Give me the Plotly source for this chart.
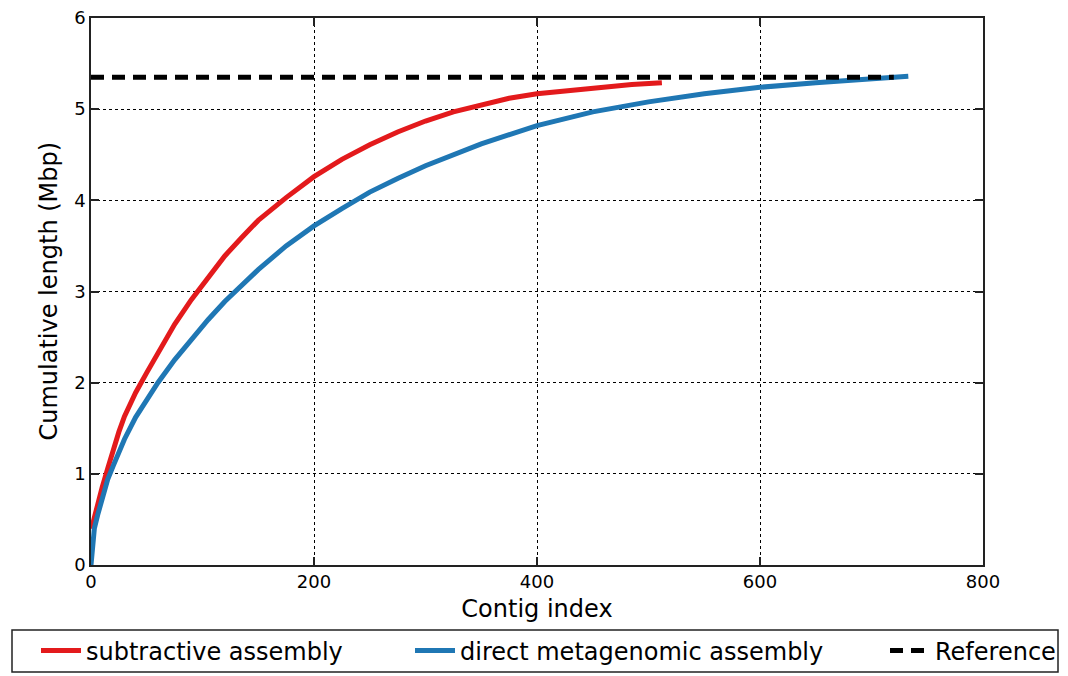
import plotly.graph_objects as go

# Subtractive assembly (cumulative length, Mbp)
sub_idx = [0, 1, 3, 6, 10, 15, 20, 25, 30, 40, 50, 60, 75, 90, 105, 120, 135, 150, 175,
           200, 225, 250, 275, 300, 325, 350, 375, 400, 450, 485, 512]
sub_val = [0.40, 0.42, 0.52, 0.67, 0.85, 1.06, 1.27, 1.46, 1.63, 1.89, 2.11, 2.33, 2.64,
           2.91, 3.16, 3.39, 3.59, 3.78, 4.03, 4.26, 4.45, 4.61, 4.75, 4.87, 4.97, 5.05,
           5.12, 5.17, 5.23, 5.27, 5.29]

# Direct metagenomic assembly
dir_idx = [0, 1, 3, 6, 10, 15, 20, 30, 40, 50, 60, 75, 90, 105, 120, 135, 150, 175, 200,
           225, 250, 275, 300, 350, 400, 450, 500, 550, 600, 650, 700, 733]
dir_val = [0.0, 0.15, 0.40, 0.55, 0.72, 0.94, 1.09, 1.38, 1.62, 1.82, 2.0, 2.25, 2.48,
           2.69, 2.89, 3.07, 3.24, 3.50, 3.72, 3.91, 4.09, 4.24, 4.38, 4.62, 4.82, 4.97,
           5.08, 5.17, 5.24, 5.29, 5.33, 5.36]

# Reference genome length
ref_idx = [0, 720]
ref_val = [5.35, 5.35]

x_ticks = [0, 200, 400, 600, 800]
y_ticks = [0, 1, 2, 3, 4, 5, 6]

FONT = "DejaVu Sans"
OFF = 8                      # page body margin of the html page
W, H = 1068 - OFF, 676 - OFF

fig = go.Figure()
fig.add_trace(go.Scatter(x=sub_idx, y=sub_val, mode="lines", name="subtractive assembly",
                         line=dict(color="#e31a1c", width=5), legend="legend"))
fig.add_trace(go.Scatter(x=dir_idx, y=dir_val, mode="lines", name="direct metagenomic assembly",
                         line=dict(color="#1f77b4", width=5), legend="legend2"))
fig.add_trace(go.Scatter(x=ref_idx, y=ref_val, mode="lines", name="Reference",
                         line=dict(color="black", width=5, dash="13px,8px"), legend="legend3"))

axis_common = dict(
    showline=True, linecolor="#222", linewidth=1.6, mirror="ticks",
    ticks="inside", ticklen=8, tickwidth=1.6, tickcolor="#222",
    showgrid=True, gridcolor="black", gridwidth=1.2, griddash="3px,3px",
    zeroline=False, ticklabeloverflow="allow",
    tickfont=dict(family=FONT, size=18, color="black"),
)

fig.update_xaxes(range=[0, 800], tickvals=x_ticks,
                 title=dict(text="Contig index", font=dict(family=FONT, size=24, color="black"), standoff=9),
                 **axis_common)
fig.update_yaxes(range=[0, 6], tickvals=y_ticks, **axis_common)

# plot area in page pixels (top kept low enough for the "6" label to fit)
pl, pr, pt, pb = 91, 983, 18, 565
pw, ph = pr - pl, pb - pt

def leg(px):
    return dict(x=px / W, y=1 - 643 / H, xref="container", yref="container",
                xanchor="left", yanchor="middle", bgcolor="rgba(0,0,0,0)",
                borderwidth=0, itemwidth=40,
                font=dict(family=FONT, size=24, color="black"))

fig.update_layout(
    width=W, height=H, plot_bgcolor="white", paper_bgcolor="white",
    margin=dict(l=pl - OFF, r=W - (pr - OFF), t=pt - OFF, b=H - (pb - OFF), autoexpand=False),
    showlegend=True,
    legend=leg(28), legend2=leg(402), legend3=leg(877),
    annotations=[dict(text="Cumulative length (Mbp)", textangle=-90, showarrow=False,
                      xref="paper", yref="paper", x=(48 - pl) / pw, y=0.5,
                      xanchor="center", yanchor="middle",
                      font=dict(family=FONT, size=24, color="black"))],
    shapes=[dict(type="rect", xref="paper", yref="paper",
                 x0=(12 - pl) / pw, x1=(1058 - pl) / pw,
                 y0=(pb - 630) / ph, y1=(pb - 672) / ph,
                 line=dict(color="#222", width=1.5), fillcolor="rgba(0,0,0,0)", layer="above")],
)

fig.write_html("out.html")
